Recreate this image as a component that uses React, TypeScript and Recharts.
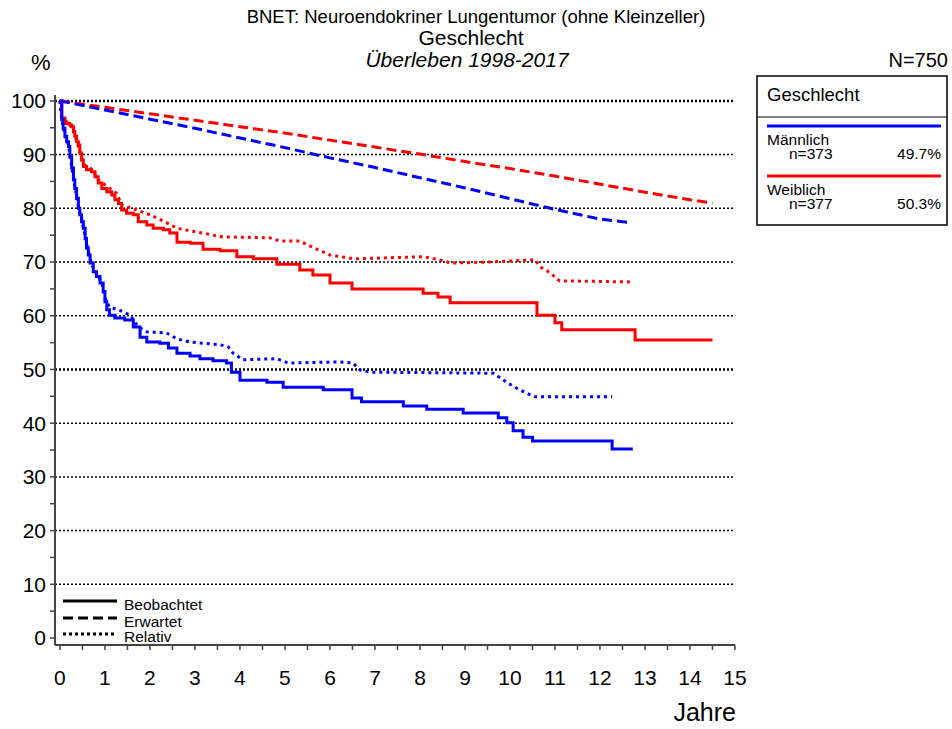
import { Line, LineChart, ReferenceLine, XAxis, YAxis } from "recharts";

type Pt = { t: number; s: number };

// Survival in % over years since diagnosis
const maleObserved: Pt[] = [
  { t: 0, s: 100 }, { t: 0.04, s: 96.5 }, { t: 0.07, s: 94.9 }, { t: 0.11, s: 93.4 },
  { t: 0.15, s: 92.4 }, { t: 0.19, s: 91.5 }, { t: 0.22, s: 89.6 }, { t: 0.26, s: 87.5 },
  { t: 0.3, s: 85.3 }, { t: 0.33, s: 83.7 }, { t: 0.37, s: 81.9 }, { t: 0.41, s: 80 },
  { t: 0.44, s: 78.8 }, { t: 0.48, s: 77.5 }, { t: 0.52, s: 76.3 }, { t: 0.56, s: 74.4 },
  { t: 0.59, s: 72.6 }, { t: 0.63, s: 71.3 }, { t: 0.67, s: 69.8 }, { t: 0.74, s: 68.2 },
  { t: 0.81, s: 67.3 }, { t: 0.89, s: 66.1 }, { t: 0.96, s: 64.5 }, { t: 1.0, s: 62.6 },
  { t: 1.04, s: 61.1 }, { t: 1.1, s: 60.1 }, { t: 1.22, s: 59.6 }, { t: 1.44, s: 59.2 },
  { t: 1.63, s: 57.9 }, { t: 1.78, s: 56 }, { t: 1.93, s: 55.1 }, { t: 2.22, s: 54.9 },
  { t: 2.41, s: 54 }, { t: 2.6, s: 53 }, { t: 2.89, s: 52.5 }, { t: 3.11, s: 52 },
  { t: 3.4, s: 51.6 }, { t: 3.7, s: 51.2 }, { t: 3.81, s: 49.5 }, { t: 4.0, s: 48 },
  { t: 4.6, s: 47.6 }, { t: 4.96, s: 46.7 }, { t: 5.85, s: 46.2 }, { t: 6.49, s: 44.7 },
  { t: 6.7, s: 44 }, { t: 7.63, s: 43.2 }, { t: 8.15, s: 42.6 }, { t: 8.96, s: 41.9 },
  { t: 9.74, s: 41 }, { t: 9.93, s: 40.1 }, { t: 10.07, s: 38.6 }, { t: 10.29, s: 37.4 },
  { t: 10.5, s: 36.7 }, { t: 12.27, s: 35.2 }, { t: 12.73, s: 35.2 },
];

const maleExpected: Pt[] = [
  { t: 0, s: 100 }, { t: 1, s: 98.3 }, { t: 2, s: 96.6 }, { t: 3, s: 94.9 },
  { t: 4, s: 93.1 }, { t: 5, s: 91.3 }, { t: 6, s: 89.4 }, { t: 7, s: 87.6 },
  { t: 8, s: 85.7 }, { t: 9, s: 83.8 }, { t: 10, s: 81.8 }, { t: 11, s: 79.8 },
  { t: 12, s: 78.0 }, { t: 12.7, s: 77.3 },
];

const maleRelative: Pt[] = [
  { t: 0, s: 100 }, { t: 0.04, s: 96.6 }, { t: 0.11, s: 93.6 }, { t: 0.19, s: 91.8 },
  { t: 0.26, s: 87.8 }, { t: 0.33, s: 84.1 }, { t: 0.41, s: 80.4 }, { t: 0.48, s: 78 },
  { t: 0.56, s: 74.9 }, { t: 0.63, s: 71.9 }, { t: 0.7, s: 69.6 }, { t: 0.81, s: 67.9 },
  { t: 0.93, s: 66.2 }, { t: 1.0, s: 63.3 }, { t: 1.1, s: 61.6 }, { t: 1.33, s: 61 },
  { t: 1.56, s: 60.1 }, { t: 1.74, s: 57.9 }, { t: 1.93, s: 57 }, { t: 2.37, s: 56.8 },
  { t: 2.6, s: 55.7 }, { t: 2.89, s: 55.1 }, { t: 3.56, s: 54.6 }, { t: 3.74, s: 54.2 },
  { t: 3.85, s: 53 }, { t: 4.07, s: 51.8 }, { t: 4.82, s: 52 }, { t: 5.07, s: 51.2 },
  { t: 6.22, s: 51.4 }, { t: 6.51, s: 51.2 }, { t: 6.67, s: 49.9 }, { t: 6.9, s: 49.5 },
  { t: 9.63, s: 49.3 }, { t: 9.93, s: 47.6 }, { t: 10.15, s: 46.5 }, { t: 10.37, s: 45.6 },
  { t: 10.56, s: 44.9 }, { t: 12.27, s: 44.9 },
];

const femaleObserved: Pt[] = [
  { t: 0, s: 100 }, { t: 0.04, s: 96.8 }, { t: 0.11, s: 95.8 }, { t: 0.22, s: 95.5 },
  { t: 0.26, s: 95.2 }, { t: 0.3, s: 94.3 }, { t: 0.33, s: 93.4 }, { t: 0.37, s: 92.4 },
  { t: 0.41, s: 91.8 }, { t: 0.44, s: 90.3 }, { t: 0.48, s: 89 }, { t: 0.52, s: 87.8 },
  { t: 0.59, s: 87.2 }, { t: 0.7, s: 86.8 }, { t: 0.78, s: 85.9 }, { t: 0.85, s: 84.7 },
  { t: 0.93, s: 83.7 }, { t: 1.04, s: 83.1 }, { t: 1.15, s: 82.5 }, { t: 1.22, s: 81.6 },
  { t: 1.3, s: 80.9 }, { t: 1.37, s: 79.7 }, { t: 1.48, s: 79.1 }, { t: 1.63, s: 78.8 },
  { t: 1.74, s: 77.5 }, { t: 1.93, s: 76.9 }, { t: 2.07, s: 76.3 }, { t: 2.3, s: 76 },
  { t: 2.44, s: 75.4 }, { t: 2.6, s: 73.7 }, { t: 2.9, s: 73.5 }, { t: 3.18, s: 72.4 },
  { t: 3.56, s: 72.1 }, { t: 3.93, s: 71 }, { t: 4.3, s: 70.6 }, { t: 4.82, s: 69.6 },
  { t: 5.33, s: 68.5 }, { t: 5.62, s: 67.6 }, { t: 6.0, s: 66.1 }, { t: 6.49, s: 65 },
  { t: 8.07, s: 64.2 }, { t: 8.4, s: 63.5 }, { t: 8.67, s: 62.4 }, { t: 10.6, s: 60.1 },
  { t: 11.0, s: 58.7 }, { t: 11.15, s: 57.4 }, { t: 12.78, s: 55.5 }, { t: 14.5, s: 55.5 },
];

const femaleExpected: Pt[] = [
  { t: 0, s: 100 }, { t: 1, s: 98.8 }, { t: 2, s: 97.6 }, { t: 3, s: 96.4 },
  { t: 4, s: 95.2 }, { t: 5, s: 94.0 }, { t: 6, s: 92.7 }, { t: 7, s: 91.4 },
  { t: 8, s: 90.1 }, { t: 9, s: 88.7 }, { t: 10, s: 87.4 }, { t: 11, s: 86.0 },
  { t: 12, s: 84.5 }, { t: 13, s: 83.0 }, { t: 14, s: 81.6 }, { t: 14.5, s: 81.0 },
];

const femaleRelative: Pt[] = [
  { t: 0, s: 100 }, { t: 0.04, s: 96.9 }, { t: 0.22, s: 95.7 }, { t: 0.33, s: 93.7 },
  { t: 0.44, s: 90.6 }, { t: 0.52, s: 88.2 }, { t: 0.7, s: 87.3 }, { t: 0.85, s: 85.3 },
  { t: 1.0, s: 84.4 }, { t: 1.26, s: 82.8 }, { t: 1.38, s: 80.6 }, { t: 1.7, s: 79.7 },
  { t: 2.0, s: 78.8 }, { t: 2.33, s: 77.5 }, { t: 2.6, s: 76.3 }, { t: 2.9, s: 75.8 },
  { t: 3.6, s: 74.7 }, { t: 4.67, s: 74.5 }, { t: 4.9, s: 73.9 }, { t: 5.33, s: 73.9 },
  { t: 5.6, s: 72.8 }, { t: 6.0, s: 71.3 }, { t: 6.55, s: 70.6 }, { t: 7.33, s: 70.8 },
  { t: 8.07, s: 71 }, { t: 8.44, s: 70.4 }, { t: 8.7, s: 69.8 }, { t: 9.5, s: 70 },
  { t: 10.56, s: 70.4 }, { t: 10.67, s: 69.1 }, { t: 10.89, s: 68 }, { t: 11.1, s: 66.5 },
  { t: 12.7, s: 66.3 },
];

const yearTicks = [
  0, 0.5, 1, 1.5, 2, 2.5, 3, 3.5, 4, 4.5, 5, 5.5, 6, 6.5, 7, 7.5,
  8, 8.5, 9, 9.5, 10, 10.5, 11, 11.5, 12, 12.5, 13, 13.5, 14, 14.5, 15,
];
const percentTicks = [0, 5, 10, 15, 20, 25, 30, 35, 40, 45, 50, 55, 60, 65, 70, 75, 80, 85, 90, 95, 100];
const thinGrid = [10, 20, 30, 40, 60, 70, 80, 90];
const boldGrid = [50, 100];

const groups = [
  { name: "Männlich", n: "n=373", share: "49.7%", color: "#0000ff" },
  { name: "Weiblich", n: "n=377", share: "50.3%", color: "#ff0000" },
];

const FONT = "'Liberation Sans', Arial, sans-serif";
const AXIS = "#444";

export default function App() {
  return (
    <div style={{ position: "absolute", left: 0, top: 0, width: 952, height: 729, background: "#fff", fontFamily: FONT }}>
      <LineChart width={952} height={729} data={maleObserved} margin={{ top: 95, right: 217, bottom: 44, left: 10 }}>
        {thinGrid.map((v) => (
          <ReferenceLine key={v} y={v} stroke="#000" strokeWidth={1.5} strokeDasharray="2 2" />
        ))}
        {boldGrid.map((v) => (
          <ReferenceLine key={v} y={v} stroke="#000" strokeWidth={2.5} strokeDasharray="2 2" />
        ))}
        <XAxis
          dataKey="t"
          type="number"
          domain={[-0.11, 15]}
          ticks={yearTicks}
          allowDataOverflow
          height={40}
          tickSize={5}
          tickMargin={20}
          tickFormatter={(v: number) => (Number.isInteger(v) ? String(v) : "")}
          axisLine={{ stroke: AXIS, strokeWidth: 2 }}
          tickLine={{ stroke: AXIS, strokeWidth: 1.5 }}
          tick={{ fontSize: 21, fill: "#000", fontFamily: FONT }}
        />
        <YAxis
          type="number"
          domain={[-1.3, 101.1]}
          ticks={percentTicks}
          allowDataOverflow
          width={45}
          tickSize={5}
          tickMargin={4}
          tickFormatter={(v: number) => (v % 10 === 0 ? String(v) : "")}
          axisLine={{ stroke: AXIS, strokeWidth: 2 }}
          tickLine={{ stroke: AXIS, strokeWidth: 1.5 }}
          tick={{ fontSize: 21, fill: "#000", fontFamily: FONT }}
        />
        <Line data={femaleExpected} dataKey="s" type="linear" stroke="#ff0000" strokeWidth={3} strokeDasharray="10 5" dot={false} isAnimationActive={false} />
        <Line data={maleExpected} dataKey="s" type="linear" stroke="#0000ff" strokeWidth={3} strokeDasharray="10 5" dot={false} isAnimationActive={false} />
        <Line data={femaleRelative} dataKey="s" type="linear" stroke="#ff0000" strokeWidth={3} strokeDasharray="3 4" dot={false} isAnimationActive={false} />
        <Line data={maleRelative} dataKey="s" type="linear" stroke="#0000ff" strokeWidth={3} strokeDasharray="3 4" dot={false} isAnimationActive={false} />
        <Line data={femaleObserved} dataKey="s" type="stepAfter" stroke="#ff0000" strokeWidth={3} dot={false} isAnimationActive={false} />
        <Line data={maleObserved} dataKey="s" type="stepAfter" stroke="#0000ff" strokeWidth={3} dot={false} isAnimationActive={false} />
      </LineChart>

      <svg width={952} height={729} style={{ position: "absolute", left: 0, top: 0, pointerEvents: "none" }} fontFamily={FONT}>
        <text x={476} y={23} fontSize={18.5} textAnchor="middle">BNET: Neuroendokriner Lungentumor (ohne Kleinzeller)</text>
        <text x={471} y={45} fontSize={21} textAnchor="middle">Geschlecht</text>
        <text x={467} y={67} fontSize={21} fontStyle="italic" textAnchor="middle">Überleben 1998-2017</text>
        <text x={31} y={70} fontSize={22}>%</text>
        <text x={948} y={67} fontSize={20} textAnchor="end">N=750</text>
        <text x={736} y={721} fontSize={25} textAnchor="end">Jahre</text>

        {/* line style key, bottom left */}
        <line x1={63} x2={117} y1={601} y2={601} stroke="#000" strokeWidth={3} />
        <line x1={63} x2={117} y1={618} y2={618} stroke="#000" strokeWidth={3} strokeDasharray="10 5" />
        <line x1={63} x2={117} y1={634} y2={634} stroke="#000" strokeWidth={3} strokeDasharray="3 3" />
        <text x={124} y={610} fontSize={15.5}>Beobachtet</text>
        <text x={124} y={627} fontSize={15.5}>Erwartet</text>
        <text x={124} y={642} fontSize={15.5}>Relativ</text>

        {/* group box, top right */}
        <rect x={757} y={76} width={190} height={149} fill="#fff" stroke="#000" strokeWidth={1.5} />
        <text x={767} y={101} fontSize={18.5}>Geschlecht</text>
        <line x1={757} x2={947} y1={117} y2={117} stroke="#000" strokeWidth={1} />
        {groups.map((g, i) => {
          const y0 = 126 + i * 50;
          return (
            <g key={g.name}>
              <line x1={767} x2={941} y1={y0} y2={y0} stroke={g.color} strokeWidth={3} />
              <text x={767} y={y0 + 19} fontSize={15.5}>{g.name}</text>
              <text x={789} y={y0 + 33} fontSize={15.5}>{g.n}</text>
              <text x={941} y={y0 + 33} fontSize={15.5} textAnchor="end">{g.share}</text>
            </g>
          );
        })}
      </svg>
    </div>
  );
}
